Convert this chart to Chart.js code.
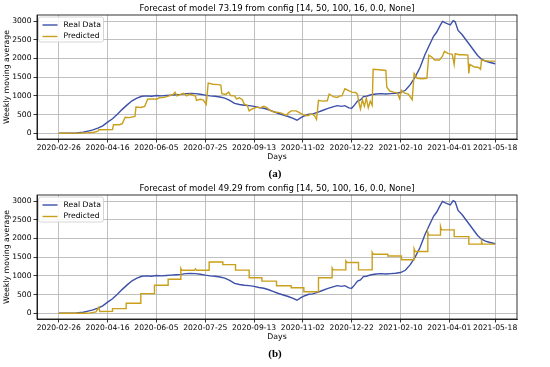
<!DOCTYPE html>
<html>
<head>
<meta charset="utf-8">
<script src="https://cdn.jsdelivr.net/npm/chart.js@4.4.1/dist/chart.umd.min.js"></script>
<style>
  html, body { margin: 0; padding: 0; background: #fff; }
  #wrap { position: relative; width: 550px; height: 367px; }
  canvas { position: absolute; left: 0; }
  .cap { position: absolute; left: 0; width: 550px; text-align: center;
         font-family: 'Liberation Serif', serif; font-weight: bold; font-size: 11px; }
</style>
</head>
<body>
<div id="wrap">
  <canvas id="chartA" width="550" height="180" style="top:0;width:550px;height:180px"></canvas>
  <div class="cap" style="top:167px">(a)</div>
  <canvas id="chartB" width="550" height="180" style="top:180px;width:550px;height:180px"></canvas>
  <div class="cap" style="top:347px">(b)</div>
</div>
<script>
// --- tick labels (x in days since 2020-02-26) ---
const tickDays = [0, 50, 100, 150, 200, 250, 300, 350, 400, 447];
const tickLabels = ['2020-02-26', '2020-04-16', '2020-06-05', '2020-07-25', '2020-09-13',
                    '2020-11-02', '2020-12-22', '2021-02-10', '2021-04-01', '2021-05-18'];
const yTicks = [0, 500, 1000, 1500, 2000, 2500, 3000];

// --- Real Data (same in both panels) ---
const realDays = [0, 10, 18, 25, 30, 35, 40, 45, 50, 55,
  60, 65, 70, 75, 80, 85, 90, 95, 100, 105,
  110, 115, 120, 125, 130, 135, 140, 145, 150, 155,
  160, 165, 170, 175, 180, 185, 190, 195, 200, 205,
  210, 215, 220, 225, 230, 235, 240, 244, 248, 252,
  256, 260, 265, 270, 275, 280, 285, 290, 293, 297,
  300, 303, 306, 309, 312, 315, 320, 325, 330, 335,
  340, 345, 350, 355, 360, 365, 370, 375, 380, 384,
  387, 390, 393, 396, 399, 401, 404, 406, 409, 413,
  417, 421, 425, 429, 433, 437, 441, 447];
const realValues = [0, 2, 8, 30, 60, 90, 140, 200, 300, 390,
  510, 640, 760, 870, 940, 990, 1000, 990, 1010, 1000,
  1010, 1020, 1030, 1040, 1060, 1065, 1060, 1045, 1020, 1000,
  990, 970, 940, 880, 800, 770, 750, 740, 720, 690,
  670, 630, 580, 530, 490, 450, 400, 350, 420, 470,
  510, 520, 560, 610, 660, 700, 740, 720, 740, 680,
  670, 760, 860, 890, 980, 990, 1030, 1050, 1060, 1050,
  1060, 1070, 1090, 1150, 1300, 1500, 1760, 2100, 2380, 2600,
  2700, 2850, 2990, 2950, 2920, 2900, 3010, 2980, 2750, 2640,
  2500, 2360, 2220, 2080, 1980, 1930, 1900, 1860];

// --- Predicted, panel (a) ---
const predADays = [0, 20, 30, 36, 40, 41, 55, 56, 62, 65,
  68, 72, 78, 79, 84, 88, 91, 96, 100, 103,
  108, 113, 117, 119, 121, 125, 128, 131, 134, 138,
  140, 141, 145, 148, 151, 153, 158, 163, 166, 167,
  171, 174, 176, 180, 182, 185, 188, 190, 193, 195,
  198, 203, 206, 210, 213, 216, 220, 225, 228, 233,
  235, 238, 243, 246, 250, 255, 259, 262, 264, 266,
  270, 275, 277, 281, 285, 288, 290, 293, 297, 300,
  304, 306, 307, 309, 311, 313, 315, 317, 319, 321,
  322, 328, 335, 336, 339, 343, 347, 349, 351, 354,
  358, 362, 364, 367, 372, 377, 379, 382, 385, 390,
  393, 395, 399, 403, 405, 406, 410, 415, 419, 420,
  421, 425, 430, 432, 433, 437, 441, 447];
const predAValues = [0, 5, 15, 30, 60, 95, 100, 230, 230, 260,
  430, 420, 450, 700, 690, 720, 910, 920, 910, 950,
  960, 1000, 1040, 1100, 1000, 1040, 1070, 1000, 1050, 1010,
  1000, 880, 910, 890, 770, 1340, 1310, 1300, 1290, 1060,
  1040, 1100, 1010, 1000, 920, 950, 900, 780, 750, 600,
  650, 700, 680, 720, 690, 620, 570, 560, 540, 480,
  540, 600, 600, 560, 500, 470, 520, 470, 370, 880,
  860, 870, 1050, 980, 960, 1000, 1000, 1190, 1140, 1100,
  1090, 1040, 870, 650, 900, 720, 940, 680, 860, 750,
  1710, 1700, 1680, 1230, 1130, 1100, 1080, 930, 1150, 1080,
  1050, 900, 1600, 1470, 1460, 1470, 2090, 2040, 1960, 1960,
  2060, 2190, 2130, 2110, 1840, 2130, 2100, 2100, 2090, 1600,
  1840, 1780, 1760, 1710, 1960, 1940, 1930, 1930];

// --- Predicted, panel (b) ---
const predBDays = [0, 30, 38, 41, 42, 55, 55, 69, 69, 84,
  84, 98, 98, 112, 112, 125, 125, 126, 139, 140,
  141, 154, 154, 168, 168, 181, 181, 195, 195, 208,
  208, 223, 223, 238, 238, 251, 251, 266, 266, 280,
  280, 281, 294, 294, 295, 307, 307, 321, 321, 322,
  337, 337, 351, 351, 364, 364, 365, 378, 378, 379,
  391, 391, 392, 405, 405, 420, 420, 433, 433, 434,
  447];
const predBValues = [0, 0, 40, 160, 50, 55, 125, 125, 270, 270,
  525, 525, 750, 750, 910, 910, 1200, 1150, 1150, 1190,
  1150, 1150, 1370, 1370, 1300, 1300, 1155, 1155, 950, 950,
  860, 860, 735, 735, 685, 685, 575, 575, 950, 950,
  1210, 1160, 1160, 1400, 1360, 1360, 1160, 1160, 1630, 1580,
  1580, 1530, 1530, 1430, 1430, 1720, 1650, 1650, 2170, 2090,
  2090, 2320, 2230, 2230, 2050, 2050, 1850, 1850, 1920, 1850,
  1850];

const BLUE = '#3d50a8';
const GOLD = '#c9a01c';
const FONT = "'DejaVu Sans', sans-serif";

Chart.defaults.font.family = FONT;
Chart.defaults.color = '#000';

function toPoints(days, vals) {
  return days.map((d, i) => ({ x: d, y: vals[i] }));
}

// frame, title and a matplotlib-style legend box
const frameAndLegend = {
  id: 'frameAndLegend',
  afterDraw(chart, args, opts) {
    const { ctx, chartArea: a } = chart;
    ctx.save();
    ctx.strokeStyle = '#000';
    ctx.lineWidth = 0.8;
    ctx.strokeRect(a.left, a.top, a.right - a.left, a.bottom - a.top);

    ctx.fillStyle = '#000';
    ctx.font = '8.5px ' + FONT;
    ctx.textAlign = 'center';
    ctx.textBaseline = 'middle';
    ctx.fillText(opts.text, (a.left + a.right) / 2, a.top - 6);

    const bx = a.left + 1.5, by = a.top + 2, bw = 65, bh = 25;
    ctx.beginPath();
    ctx.roundRect(bx, by, bw, bh, 2);
    ctx.fillStyle = 'rgba(255,255,255,0.85)';
    ctx.fill();
    ctx.strokeStyle = '#cccccc';
    ctx.lineWidth = 0.8;
    ctx.stroke();

    ctx.font = '7.7px ' + FONT;
    ctx.textAlign = 'left';
    chart.data.datasets.forEach((ds, i) => {
      const y = by + 8 + i * 11.5;
      ctx.strokeStyle = ds.borderColor;
      ctx.lineWidth = 1.4;
      ctx.beginPath();
      ctx.moveTo(bx + 4, y);
      ctx.lineTo(bx + 19, y);
      ctx.stroke();
      ctx.fillStyle = '#000';
      ctx.fillText(ds.label, bx + 25, y);
    });
    ctx.restore();
  }
};

function makeChart(id, title, predDays, predValues) {
  const grid = { color: '#b0b0b0', lineWidth: 0.8, tickLength: 3.5, tickColor: '#000', tickWidth: 0.8 };
  return new Chart(document.getElementById(id), {
    type: 'line',
    data: {
      datasets: [
        { label: 'Real Data', data: toPoints(realDays, realValues), borderColor: BLUE,
          borderWidth: 1.4, pointRadius: 0, tension: 0, order: 1 },
        { label: 'Predicted', data: toPoints(predDays, predValues), borderColor: GOLD,
          borderWidth: 1.4, pointRadius: 0, tension: 0, order: 0 }
      ]
    },
    options: {
      responsive: false,
      animation: false,
      devicePixelRatio: 1,
      layout: { padding: { left: 0, right: 33, top: 15, bottom: 15 } },
      plugins: {
        legend: { display: false },
        tooltip: { enabled: false },
        frameAndLegend: { text: title }
      },
      scales: {
        x: {
          type: 'linear', min: -22.35, max: 469.35,
          afterBuildTicks: s => { s.ticks = tickDays.map(v => ({ value: v })); },
          afterFit: s => { s.height = 26; },
          ticks: { autoSkip: false, maxRotation: 0, padding: 1, font: { size: 7.6 },
                   callback: v => tickLabels[tickDays.indexOf(v)] },
          grid: grid,
          border: { color: '#000', width: 0.8 },
          title: { display: true, text: 'Days', font: { size: 7.8 }, padding: { top: 0, bottom: 3 } }
        },
        y: {
          min: -152, max: 3162,
          afterBuildTicks: s => { s.ticks = yTicks.map(v => ({ value: v })); },
          afterFit: s => { s.width = 37; },
          ticks: { padding: 2, font: { size: 7.6 }, callback: v => String(v) },
          grid: grid,
          border: { color: '#000', width: 0.8 },
          title: { display: true, text: 'Weekly moving average', font: { size: 7.8 }, padding: { top: 2, bottom: 0 } }
        }
      }
    },
    plugins: [frameAndLegend]
  });
}

makeChart('chartA', 'Forecast of model 73.19 from config [14, 50, 100, 16, 0.0, None]', predADays, predAValues);
makeChart('chartB', 'Forecast of model 49.29 from config [14, 50, 100, 16, 0.0, None]', predBDays, predBValues);
</script>
</body>
</html>
